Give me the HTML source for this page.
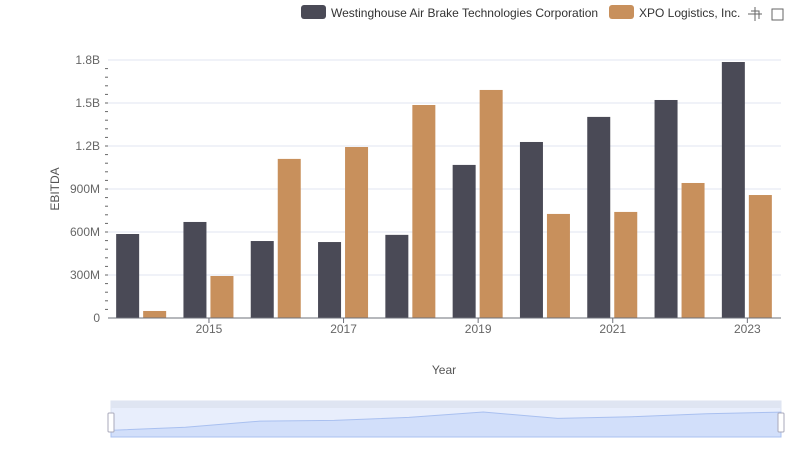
<!DOCTYPE html>
<html><head><meta charset="utf-8"><style>
body{margin:0;background:#fff;font-family:"Liberation Sans",sans-serif}
svg text{font-family:"Liberation Sans",sans-serif}
</style></head><body>
<svg id="chart" width="800" height="461">
<g id="legend">
 <rect x="301" y="5" width="25" height="14" rx="3" fill="#4a4a56"/>
 <text x="331" y="17" font-size="12" fill="#333">Westinghouse Air Brake Technologies Corporation</text>
 <rect x="609" y="5" width="25" height="14" rx="3" fill="#c8905c"/>
 <text x="639" y="17" font-size="12" fill="#333">XPO Logistics, Inc.</text>
</g>
<g stroke="#666" fill="none" stroke-width="1">
 <path d="M748 14h14M755 7v14M751 11h8v8"/>
 <rect x="772" y="9" width="11" height="11"/>
</g>
<g id="grid"></g>
<g id="bars"></g>
<g id="axes"></g>
<text transform="translate(59,189) rotate(-90)" text-anchor="middle" font-size="12" fill="#555">EBITDA</text>
<text x="444" y="374" text-anchor="middle" font-size="12" fill="#555">Year</text>
<g>
 <rect x="111" y="401" width="670" height="36" fill="#e8eefc" stroke="#dde3f0"/>
 <rect x="111" y="401" width="670" height="7" fill="#dfe5f2"/>
 <path id="shadow" fill="#d2dffa" stroke="#a9c0f0" stroke-width="1"/>
 <rect x="108" y="413" width="6" height="19" rx="1" fill="#fff" stroke="#aab"/>
 <rect x="778" y="413" width="6" height="19" rx="1" fill="#fff" stroke="#aab"/>
</g>
</svg>
<script>
const years=[2014,2015,2016,2017,2018,2019,2020,2021,2022,2023];
const wabtec=[0.586,0.67,0.537,0.53,0.58,1.068,1.228,1.403,1.521,1.786];
const xpo=[0.049,0.293,1.11,1.193,1.486,1.591,0.726,0.74,0.942,0.858];
const yTicks=[0,0.3,0.6,0.9,1.2,1.5,1.8];
const yTickLabels=["0","300M","600M","900M","1.2B","1.5B","1.8B"];
const xTickLabels=["2015","2017","2019","2021","2023"];
const NS="http://www.w3.org/2000/svg";
const L=108,R=781,T=60,B=318,maxV=1.8;
const step=(R-L)/years.length;
const y=v=>B-(v/maxV)*(B-T);
const xc=i=>L+step*(i+0.5);
function mk(tag,attrs,parent){const e=document.createElementNS(NS,tag);for(const k in attrs)e.setAttribute(k,attrs[k]);parent.appendChild(e);return e;}
const grid=document.getElementById('grid'),bars=document.getElementById('bars'),axes=document.getElementById('axes');
yTicks.forEach((t,i)=>{
 if(t>0){const g=mk('line',{x1:L,x2:R,y1:y(t),y2:y(t),stroke:'#e0e6f1'},grid);
 
 }
 const tx=mk('text',{x:L-8,y:y(t)+4,'text-anchor':'end','font-size':12,fill:'#666'},axes);
 tx.textContent=yTickLabels[i];
 
 
});
for(let v=0.06;v<maxV;v+=0.06){
 const m=mk('line',{x1:L-3,x2:L,y1:y(v),y2:y(v),stroke:'#666'},axes);
 
 
}
const bw=23,gap=4;
years.forEach((yr,i)=>{
 const c=xc(i)-0.5;
 const a=mk('rect',{x:c-gap/2-bw,y:y(wabtec[i]),width:bw,height:B-y(wabtec[i]),fill:'#4a4a56'},bars);
 
 
 const b=mk('rect',{x:c+gap/2,y:y(xpo[i]),width:bw,height:B-y(xpo[i]),fill:'#c8905c'},bars);
 
 
});
const ax=mk('line',{x1:L,x2:R,y1:B,y2:B,stroke:'#6e7079'},axes);


years.forEach((yr,i)=>{
 if(xTickLabels.indexOf(String(yr))<0)return;
 const tk=mk('line',{x1:xc(i),x2:xc(i),y1:B,y2:B+5,stroke:'#6e7079'},axes);
 
 
 const t=mk('text',{x:xc(i),y:B+15,'text-anchor':'middle','font-size':12,fill:'#666'},axes);
 t.textContent=String(yr);
 
 
});
// slider shadow from sum
const sx=i=>111+670*i/(years.length-1);
const tot=years.map((_,i)=>wabtec[i]+xpo[i]);
const mx=Math.max(...tot);
let d='M111 437';
tot.forEach((v,i)=>{d+=' L'+sx(i).toFixed(1)+' '+(436-(v/mx)*24).toFixed(1);});
d+=' L781 437 Z';
document.getElementById('shadow').setAttribute('d',d);
</script>
</body></html>
